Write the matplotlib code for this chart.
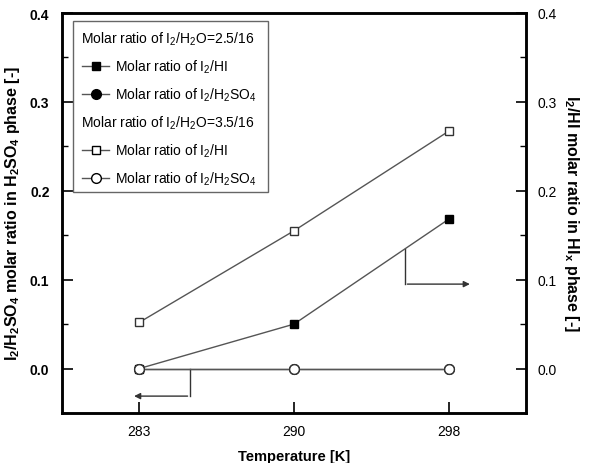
import matplotlib
matplotlib.use('Agg')
import matplotlib.pyplot as plt
from matplotlib.lines import Line2D
from matplotlib.patches import Rectangle
from matplotlib.ticker import MultipleLocator

plt.rcParams['font.family'] = ['Liberation Sans', 'DejaVu Sans']
plt.rcParams['mathtext.fontset'] = 'custom'
plt.rcParams['mathtext.rm'] = 'Liberation Sans'
plt.rcParams['mathtext.bf'] = 'Liberation Sans:bold'

# data
temps = ['283', '290', '298']
x = [1, 2, 3]
hi_25 = [0.0, 0.05, 0.168]       # I2/HI, I2/H2O = 2.5/16
h2so4_25 = [0.0, 0.0, 0.0]       # I2/H2SO4, I2/H2O = 2.5/16
hi_35 = [0.052, 0.155, 0.267]    # I2/HI, I2/H2O = 3.5/16
h2so4_35 = [0.0, 0.0, 0.0]       # I2/H2SO4, I2/H2O = 3.5/16

lc = '#555555'
fig = plt.figure(figsize=(5.95, 4.64), dpi=100)
ax = fig.add_axes([62/595, 50/464, 464/595, 400/464])
ax2 = ax.twinx()
ax.set_zorder(ax2.get_zorder() + 1)
ax.patch.set_visible(False)

# HI-phase values share the same scale as the right axis
ax.plot(x, hi_25, '-', color=lc, lw=1, marker='s', ms=6, mfc='black', mec='black', zorder=3)
ax.plot(x, h2so4_25, '-', color=lc, lw=1, marker='o', ms=7, mfc='black', mec='black', zorder=2)
ax.plot(x, hi_35, '-', color=lc, lw=1, marker='s', ms=6, mfc='white', mec='#333333', zorder=3)
ax.plot(x, h2so4_35, '-', color=lc, lw=1, marker='o', ms=7, mfc='white', mec='#333333', zorder=4)

for a in (ax, ax2):
    a.set_xlim(0.5, 3.5)
    a.set_ylim(-0.05, 0.4)
    a.yaxis.set_major_locator(MultipleLocator(0.1))
    a.yaxis.set_minor_locator(MultipleLocator(0.05))
    for s in a.spines.values():
        s.set_linewidth(1.8)

ax.set_xticks(x)
ax.set_xticklabels(temps, fontsize=10)
ax.tick_params(axis='x', direction='in', length=8, width=1.2, top=False, pad=8)
ax.tick_params(axis='y', which='major', direction='in', length=8, width=1.2, labelsize=10, pad=9)
ax.tick_params(axis='y', which='minor', direction='in', length=4, width=1.0)
ax2.tick_params(axis='y', which='major', direction='in', length=7, width=1.2, labelsize=10, pad=8)
ax2.tick_params(axis='y', which='minor', direction='in', length=4, width=1.0)
ax.set_yticks([0.0, 0.1, 0.2, 0.3, 0.4])
ax.set_yticklabels(['0.0', '0.1', '0.2', '0.3', '0.4'], fontweight='bold')
ax2.set_yticks([0.0, 0.1, 0.2, 0.3, 0.4])
ax2.set_yticklabels(['0.0', '0.1', '0.2', '0.3', '0.4'])

ax.set_ylabel(r'$\mathbf{I_2/H_2SO_4}$ molar ratio in $\mathbf{H_2SO_4}$ phase [-]',
              fontsize=11.5, fontweight='bold', labelpad=6)
ax2.set_ylabel(r'$\mathbf{I_2/HI}$ molar ratio in $\mathbf{HI_x}$ phase [-]',
               fontsize=11.5, fontweight='bold', rotation=270, labelpad=18)
ax.set_xlabel('Temperature [K]', fontsize=10.5, fontweight='bold', labelpad=8)

# arrows pointing to the axes
ax.plot([2.715, 2.715], [0.134, 0.095], color='#333333', lw=1)
ax.annotate('', xy=(3.155, 0.095), xytext=(2.715, 0.095),
            arrowprops=dict(arrowstyle='-|>', color='#333333', lw=1, mutation_scale=9))
ax.plot([1.33, 1.33], [0.0, -0.031], color='#333333', lw=1)
ax.annotate('', xy=(0.948, -0.031), xytext=(1.33, -0.031),
            arrowprops=dict(arrowstyle='-|>', color='#333333', lw=1, mutation_scale=9))

# legend drawn by hand
tr = ax.transAxes
def ax_x(px):
    return (px - 62) / 464
def ax_y(py):
    return 1 - (py - 14) / 400

ax.add_patch(Rectangle((ax_x(73), ax_y(193)), ax_x(268) - ax_x(73), ax_y(22) - ax_y(193),
                       transform=tr, fill=False, ec='#666666', lw=1, zorder=5, clip_on=False))
rows = [39, 67, 95, 123, 151, 179]
legend_items = [
    (None, r'Molar ratio of I$_2$/H$_2$O=2.5/16'),
    (('s', 'black', 6), r'Molar ratio of I$_2$/HI'),
    (('o', 'black', 7), r'Molar ratio of I$_2$/H$_2$SO$_4$'),
    (None, r'Molar ratio of I$_2$/H$_2$O=3.5/16'),
    (('s', 'white', 6), r'Molar ratio of I$_2$/HI'),
    (('o', 'white', 7), r'Molar ratio of I$_2$/H$_2$SO$_4$'),
]
for py, (mk, label) in zip(rows, legend_items):
    if mk is None:
        ax.text(ax_x(81), ax_y(py), label, transform=tr, fontsize=10, va='center', ha='left', zorder=6)
    else:
        ax.add_line(Line2D([ax_x(82), ax_x(109)], [ax_y(py)] * 2, transform=tr, color=lc, lw=1,
                           zorder=6))
        ax.add_line(Line2D([ax_x(95.5)], [ax_y(py)], transform=tr, marker=mk[0], ms=mk[2],
                           mfc=mk[1], mec='black', ls='none', zorder=7))
        ax.text(ax_x(115), ax_y(py), label, transform=tr, fontsize=10, va='center', ha='left', zorder=6)

fig.savefig('out.png', dpi=100)
